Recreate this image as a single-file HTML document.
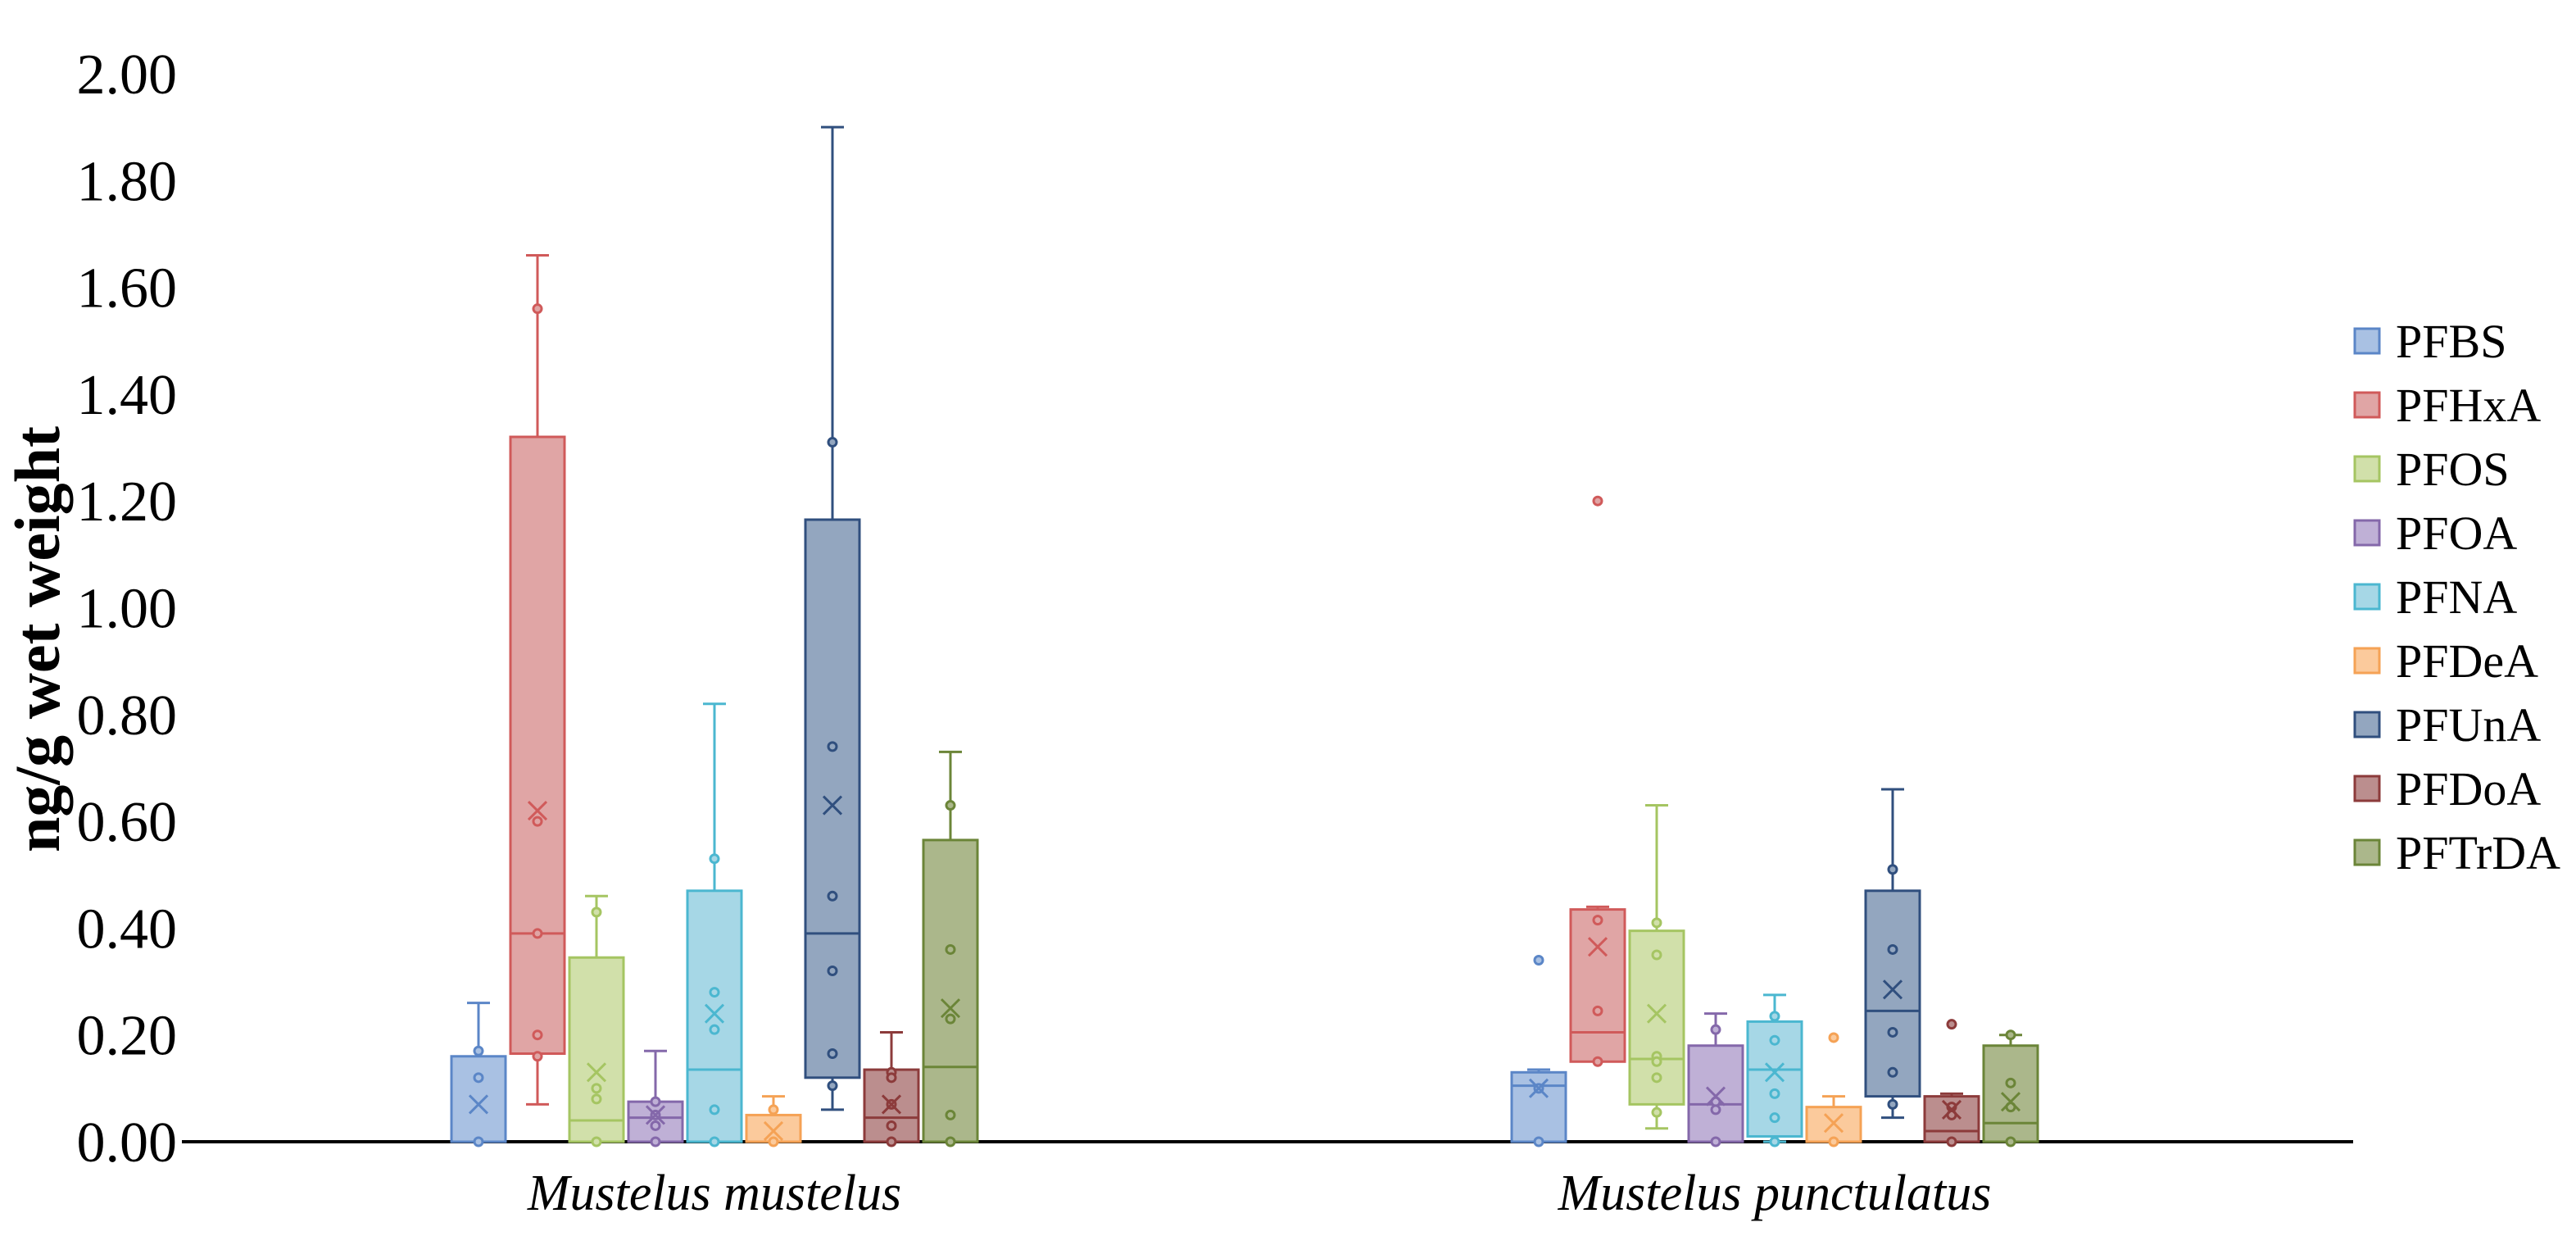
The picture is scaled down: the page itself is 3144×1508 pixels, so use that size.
<!DOCTYPE html>
<html><head><meta charset="utf-8"><style>
html,body{margin:0;padding:0;background:#fff;}
svg{display:block;font-family:"Liberation Serif",serif;}
</style></head><body>
<svg id="chart" width="3144" height="1508" viewBox="0 0 3144 1508" xmlns="http://www.w3.org/2000/svg">
<g id="yaxis"></g>
<text transform="translate(72,780) rotate(-90)" text-anchor="middle" font-size="78" font-weight="bold">ng/g wet weight</text>
<line x1="222" y1="1393" x2="2872" y2="1393" stroke="#000" stroke-width="4"/>
<g id="boxes"></g>
<g id="xlabels"></g>
<g id="legend"></g>
</svg>
<script>
const categories = ["Mustelus mustelus", "Mustelus punctulatus"];
const series = ["PFBS","PFHxA","PFOS","PFOA","PFNA","PFDeA","PFUnA","PFDoA","PFTrDA"];
const yTicks = [0,0.2,0.4,0.6,0.8,1.0,1.2,1.4,1.6,1.8,2.0];
// each stat: [whiskerMin, q1, median, q3, whiskerMax, mean]
const statsMustelus = [
 [0,0,0,0.16,0.26,0.07],
 [0.07,0.165,0.39,1.32,1.66,0.62],
 [0,0,0.04,0.345,0.46,0.13],
 [0,0,0.045,0.075,0.17,0.05],
 [0,0,0.135,0.47,0.82,0.24],
 [0,0,0,0.05,0.085,0.02],
 [0.06,0.12,0.39,1.165,1.90,0.63],
 [0,0,0.045,0.135,0.205,0.07],
 [0,0,0.14,0.565,0.73,0.25]
];
const pointsMustelus = [
 [0.17,0.12,0],
 [1.56,0.60,0.39,0.20,0.16],
 [0.43,0.10,0.08,0],
 [0.075,0.05,0.03,0],
 [0.53,0.28,0.21,0.06,0],
 [0.06,0],
 [1.31,0.74,0.46,0.32,0.165,0.105],
 [0.13,0.12,0.07,0.03,0],
 [0.63,0.36,0.23,0.05,0]
];
const statsPunctulatus = [
 [0,0,0.105,0.13,0.135,0.10],
 [0.15,0.15,0.205,0.435,0.44,0.365],
 [0.025,0.07,0.155,0.395,0.63,0.24],
 [0,0,0.07,0.18,0.24,0.085],
 [0,0.01,0.135,0.225,0.275,0.13],
 [0,0,0,0.065,0.085,0.035],
 [0.045,0.085,0.245,0.47,0.66,0.285],
 [0,0,0.02,0.085,0.09,0.06],
 [0,0,0.035,0.18,0.20,0.075]
];
const pointsPunctulatus = [
 [0.34,0.10,0],
 [1.20,0.415,0.245,0.15],
 [0.41,0.35,0.16,0.15,0.12,0.055],
 [0.21,0.075,0.06,0],
 [0.235,0.19,0.09,0.045,0],
 [0.195,0],
 [0.51,0.36,0.205,0.13,0.07],
 [0.22,0.065,0.05,0],
 [0.20,0.11,0.065,0]
];
const fills = ["#a9c1e3","#e0a5a5","#d1e0aa","#bfb0d6","#a6d7e6","#fbca9c","#93a6bf","#bb8e8e","#abb78b"];
const strokes = ["#5b86c7","#d05a5a","#a5c562","#8468aa","#4bb7d0","#f5a255","#304f7e","#8c3b3b","#6b8538"];

const NS="http://www.w3.org/2000/svg";
const Y0=1393, Y1=90;
function y(v){return Y0-(v/2.0)*(Y0-Y1);}
const groupCenters=[872,2166];
const step=72, bw=66;
function x(g,s){return groupCenters[g]+(s-(series.length-1)/2)*step;}
function mk(tag,attrs,parent){const e=document.createElementNS(NS,tag);for(const k in attrs)e.setAttribute(k,attrs[k]);parent.appendChild(e);return e;}

const ya=document.getElementById('yaxis');
yTicks.forEach(t=>{
 const e=mk('text',{x:216,y:y(t)+24,'text-anchor':'end','font-size':70},ya);
 
 
 e.textContent=t.toFixed(2);
});
const xl=document.getElementById('xlabels');
categories.forEach((c,i)=>{
 const e=mk('text',{x:groupCenters[i],y:1476,'text-anchor':'middle','font-size':62,'font-style':'italic'},xl);
 
 
 e.textContent=c;
});
const bx=document.getElementById('boxes');
[[statsMustelus,pointsMustelus],[statsPunctulatus,pointsPunctulatus]].forEach(([st,pts],g)=>{
 st.forEach((s,i)=>{
  const [mn,q1,md,q3,mx,mean]=s;const cx=x(g,i);const c=strokes[i];
  const grp=mk('g',{},bx);
  
  
  if(mx>q3){mk('line',{x1:cx,x2:cx,y1:y(q3),y2:y(mx),stroke:c,'stroke-width':3},grp);mk('line',{x1:cx-14,x2:cx+14,y1:y(mx),y2:y(mx),stroke:c,'stroke-width':3},grp);}
  if(mn<q1){mk('line',{x1:cx,x2:cx,y1:y(q1),y2:y(mn),stroke:c,'stroke-width':3},grp);mk('line',{x1:cx-14,x2:cx+14,y1:y(mn),y2:y(mn),stroke:c,'stroke-width':3},grp);}
  mk('rect',{x:cx-bw/2,y:y(q3),width:bw,height:Math.max(0,y(q1)-y(q3)),fill:fills[i],stroke:c,'stroke-width':3},grp);
  mk('line',{x1:cx-bw/2,x2:cx+bw/2,y1:y(md),y2:y(md),stroke:c,'stroke-width':3},grp);
  pts[i].forEach(p=>{mk('circle',{cx:cx,cy:y(p),r:5,fill:fills[i],stroke:c,'stroke-width':3},grp);});
  const m=y(mean),d=11;
  mk('path',{d:`M${cx-d} ${m-d}L${cx+d} ${m+d}M${cx-d} ${m+d}L${cx+d} ${m-d}`,stroke:c,'stroke-width':3,fill:'none'},grp);
 });
});
const lg=document.getElementById('legend');
series.forEach((s,i)=>{
 const yy=416+i*78;
 const g=mk('g',{},lg);
 
 
 mk('rect',{x:2874,y:yy-15,width:30,height:30,fill:fills[i],stroke:strokes[i],'stroke-width':3},g);
 const t=mk('text',{x:2924,y:yy+20,'font-size':58},g);
 t.textContent=s;
});
</script>
</body></html>
